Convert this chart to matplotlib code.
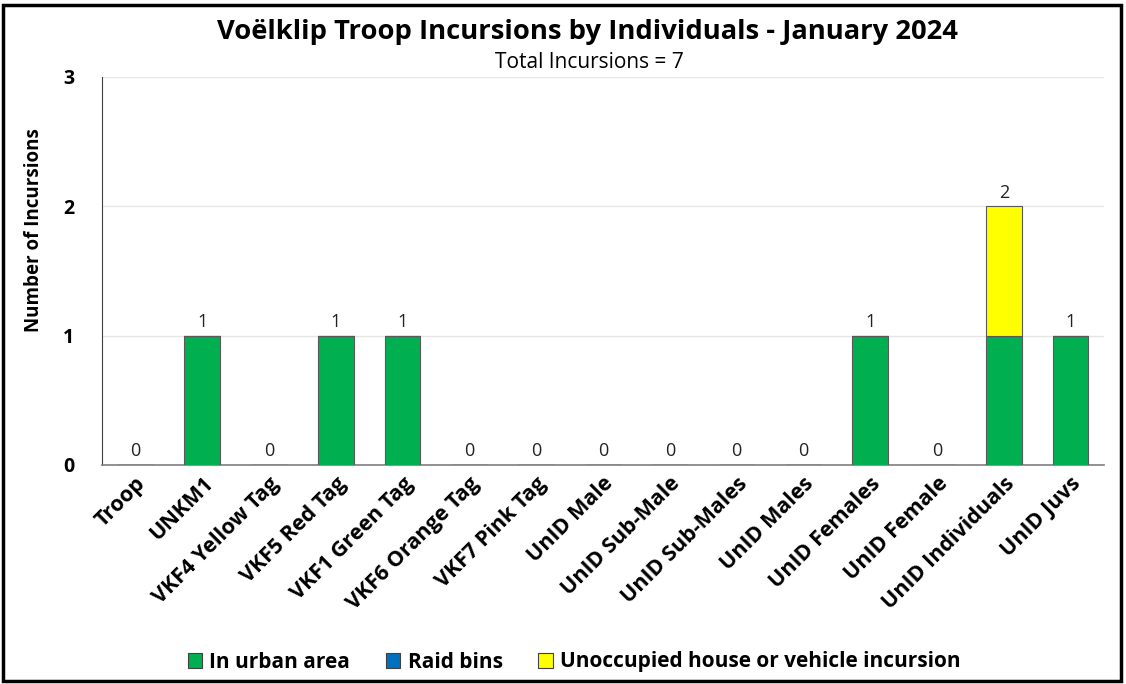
import matplotlib
matplotlib.use("Agg")
import matplotlib.pyplot as plt
from matplotlib.patches import Rectangle
import numpy as np

categories = ["Troop", "UNKM1", "VKF4 Yellow Tag", "VKF5 Red Tag", "VKF1 Green Tag",
              "VKF6 Orange Tag", "VKF7 Pink Tag", "UnID Male", "UnID Sub-Male",
              "UnID Sub-Males", "UnID Males", "UnID Females", "UnID Female",
              "UnID Individuals", "UnID Juvs"]
urban = [0, 1, 0, 1, 1, 0, 0, 0, 0, 0, 0, 1, 0, 1, 1]
raid_bins = [0, 0, 0, 0, 0, 0, 0, 0, 0, 0, 0, 0, 0, 0, 0]
unoccupied = [0, 0, 0, 0, 0, 0, 0, 0, 0, 0, 0, 0, 0, 1, 0]
series_names = ["In urban area", "Raid bins", "Unoccupied house or vehicle incursion"]
colors = ["#00B050", "#0070C0", "#FFFF00"]

plt.rcParams['font.family'] = ['Open Sans', 'DejaVu Sans']

fig = plt.figure(figsize=(11.26, 6.84), dpi=100)
ax = fig.add_axes([102/1126, 1 - 465/684, (1104-102)/1126, (465-77)/684])

x = np.arange(len(categories))
w = 0.53
bottom = np.zeros(len(categories))
for vals, name, c in zip([urban, raid_bins, unoccupied], series_names, colors):
    v = np.array(vals, dtype=float)
    ax.bar(x, v, w, bottom=bottom, color=c, edgecolor="#595959", linewidth=0.8,
           label=name, zorder=3)
    bottom += v

totals = bottom
for xi, t in zip(x, totals):
    ax.text(xi, t + 0.035, f"{int(t)}", ha="center", va="bottom", fontsize=13,
            color="#222222", zorder=4)

ax.set_xlim(-0.5, len(categories) - 0.5)
ax.set_ylim(0, 3)
ax.set_yticks([0, 1, 2, 3])
ax.set_yticklabels(["0", "1", "2", "3"], fontweight="bold", fontsize=14)
ax.yaxis.grid(True, color="#e6e6e6", linewidth=1, zorder=0)
ax.set_axisbelow(True)
ax.tick_params(axis="both", length=0)
ax.tick_params(axis="y", pad=20)
ax.tick_params(axis="x", pad=6)
ax.set_xticks(x)
ax.set_xticklabels(categories, rotation=45, ha="right", rotation_mode="anchor",
                   fontweight="bold", fontsize=15.5)
for s in ["top", "right"]:
    ax.spines[s].set_visible(False)
ax.spines["left"].set_color("#404040")
ax.spines["bottom"].set_color("#7f7f7f")
ax.spines["bottom"].set_linewidth(1.2)
ax.set_ylabel("Number of Incursions", fontweight="bold", fontsize=13.5)
ax.yaxis.set_label_coords(-(102-44)/1002, 0.605)

fig.text(587/1126, 1 - 32/684, "Voëlklip Troop Incursions by Individuals - January 2024",
         ha="center", va="center", fontsize=19.7, fontweight="bold")
fig.text(589/1126, 1 - 62/684, "Total Incursions = 7", ha="center", va="center",
         fontsize=15)

handles = [Rectangle((0, 0), 1, 1, facecolor=c, edgecolor="#404040", linewidth=0.8)
           for c in colors]
leg = fig.legend(handles, series_names, loc="center", bbox_to_anchor=(574/1126, 1 - 662/684),
                 ncol=3, frameon=False, prop={"weight": "bold", "size": 15},
                 handlelength=0.7, handleheight=0.7, handletextpad=0.35, columnspacing=1.7)

fig.add_artist(Rectangle((3/1126, 3/684), 1118/1126, 676/684, transform=fig.transFigure,
                         fill=False, edgecolor="black", linewidth=2.5))

fig.savefig("out.png", dpi=100)
